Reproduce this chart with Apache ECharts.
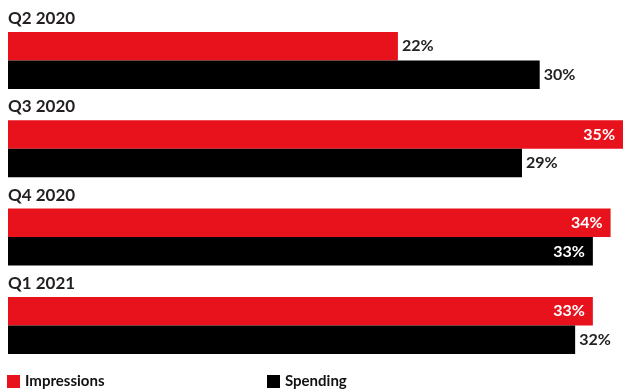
<!DOCTYPE html>
<html>
<head>
<meta charset="utf-8">
<script src="https://cdn.jsdelivr.net/npm/echarts@6/dist/echarts.min.js"></script>
<style>
html,body{margin:0;padding:0;background:#fff;}
#chart{width:623px;height:392px;}
</style>
</head>
<body>
<div id="chart"></div>
<script>
const categories = ['Q2 2020', 'Q3 2020', 'Q4 2020', 'Q1 2021'];
const impressions = [22, 35, 34, 33];
const spending = [30, 29, 33, 32];
const seriesNames = ['Impressions', 'Spending'];

const RED = '#e8121d';
const BLACK = '#000000';
const FONT = 'Lato, "Open Sans", sans-serif';

function makeData(values) {
  return values.map(v => {
    const inside = v > 32.5;
    return {
      value: v,
      label: inside
        ? { position: 'insideRight', color: '#ffffff', distance: 8 }
        : { position: 'right', color: '#222222', distance: 4 }
    };
  });
}

const chart = echarts.init(document.getElementById('chart'), null, { renderer: 'canvas' });
chart.setOption({
  animation: false,
  backgroundColor: '#ffffff',
  grid: { left: 8, right: 0, top: 16.3, height: 353.3, containLabel: false, outerBoundsMode: 'none' },
  xAxis: {
    type: 'value', min: 0, max: 34.7, show: false
  },
  yAxis: {
    type: 'category', data: categories, inverse: true,
    axisLine: { show: false }, axisTick: { show: false }, splitLine: { show: false },
    axisLabel: {
      inside: true, margin: 0, align: 'left', verticalAlign: 'middle',
      formatter: v => '{t|' + v + '}',
      rich: {
        t: { color: '#231f20', fontFamily: FONT, fontWeight: 'bold', fontSize: 17, padding: [0, 0, 84, 0] }
      }
    },
    z: 10
  },
  legend: [
    { data: [seriesNames[0]], left: 7, top: 374, padding: 0, itemWidth: 13, itemHeight: 13, icon: 'rect', itemGap: 6,
      textStyle: { fontFamily: FONT, fontWeight: 'bold', fontSize: 15, color: '#111111' } },
    { data: [seriesNames[1]], left: 267, top: 374, padding: 0, itemWidth: 13, itemHeight: 13, icon: 'rect', itemGap: 6,
      textStyle: { fontFamily: FONT, fontWeight: 'bold', fontSize: 15, color: '#111111' } }
  ],
  series: [
    {
      name: seriesNames[0], type: 'bar', data: makeData(impressions),
      barWidth: 28.5, barGap: '0%', itemStyle: { color: RED },
      label: { show: true, formatter: '{c}%', fontFamily: FONT, fontWeight: 'bold', fontSize: 16 }
    },
    {
      name: seriesNames[1], type: 'bar', data: makeData(spending),
      barWidth: 28.5, barGap: '0%', itemStyle: { color: BLACK },
      label: { show: true, formatter: '{c}%', fontFamily: FONT, fontWeight: 'bold', fontSize: 16 }
    }
  ]
});
</script>
</body>
</html>
